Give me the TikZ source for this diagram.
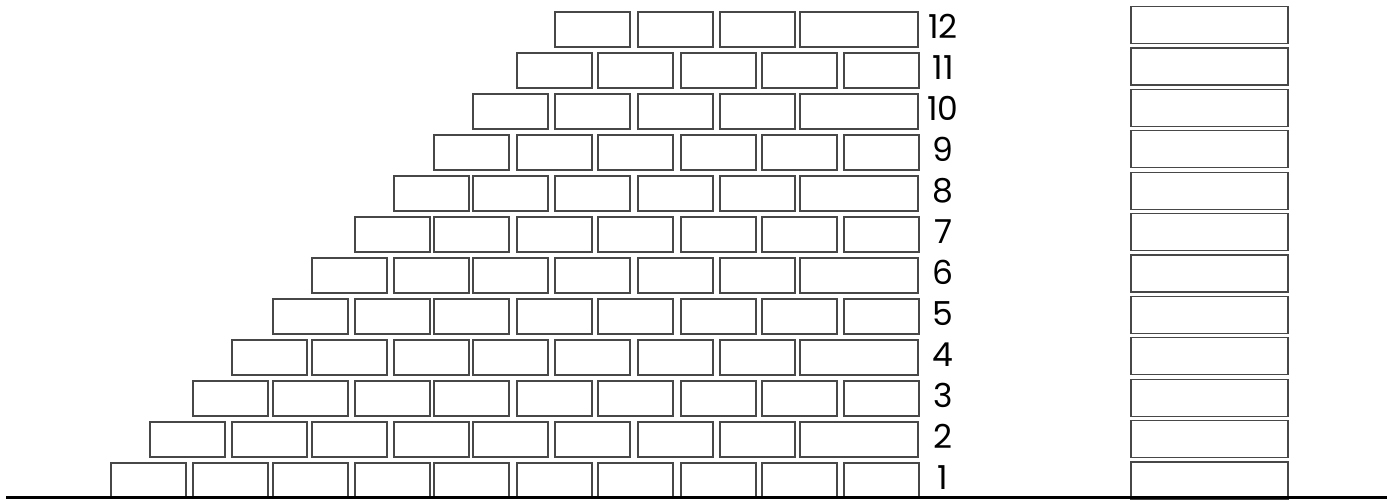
\documentclass[tikz,border=0pt]{standalone}
\usepackage{fontspec}
\setmainfont{Poppins}
\begin{document}
\begin{tikzpicture}[x=1pt,y=-1pt,
  brick/.style={rectangle,draw=black!72,line width=1.1pt,inner sep=0pt,outer sep=0pt,
    minimum width=75pt,minimum height=35pt,anchor=north west},
  widebrick/.style={brick,minimum width=118pt},
  sidebox/.style={brick,minimum width=157pt,minimum height=37pt},
  rowlabel/.style={inner sep=0pt,anchor=base,text depth=0pt,font=\fontsize{33}{33}\selectfont,text=black},
  ground/.style={line width=3pt,draw=black}]
\useasboundingbox (0,0) rectangle (1393,499);
\def\oddx{{111,193,273,355,434,517,598,681,762,844}}
\def\evenx{{150,232,312,394,473,555,638,720}}
\foreach \k in {1,...,12}{
  \pgfmathtruncatemacro\s{int((\k-1)/2)}
  \pgfmathsetmacro\ty{463-41*(\k-1)}
  \ifodd\k
    \foreach \i in {\s,...,9}{
      \pgfmathsetmacro\bx{\oddx[\i]}
      \node[brick] (b-\k-\i) at (\bx,\ty) {};
    }
  \else
    \foreach \i in {\s,...,7}{
      \pgfmathsetmacro\bx{\evenx[\i]}
      \node[brick] (b-\k-\i) at (\bx,\ty) {};
    }
    \node[widebrick] (b-\k-8) at (800,\ty) {};
  \fi
  \node[rowlabel] (l-\k) at (943,\ty+26) {\k};
  \pgfmathsetmacro\ry{462-41.4*(\k-1)}
  \node[sidebox] (s-\k) at (1131,\ry) {};
}
\coordinate (gl) at (6,497.5);
\coordinate (gr) at (1387,497.5);
\draw[ground] (gl) -- (gr);
\end{tikzpicture}
\end{document}
